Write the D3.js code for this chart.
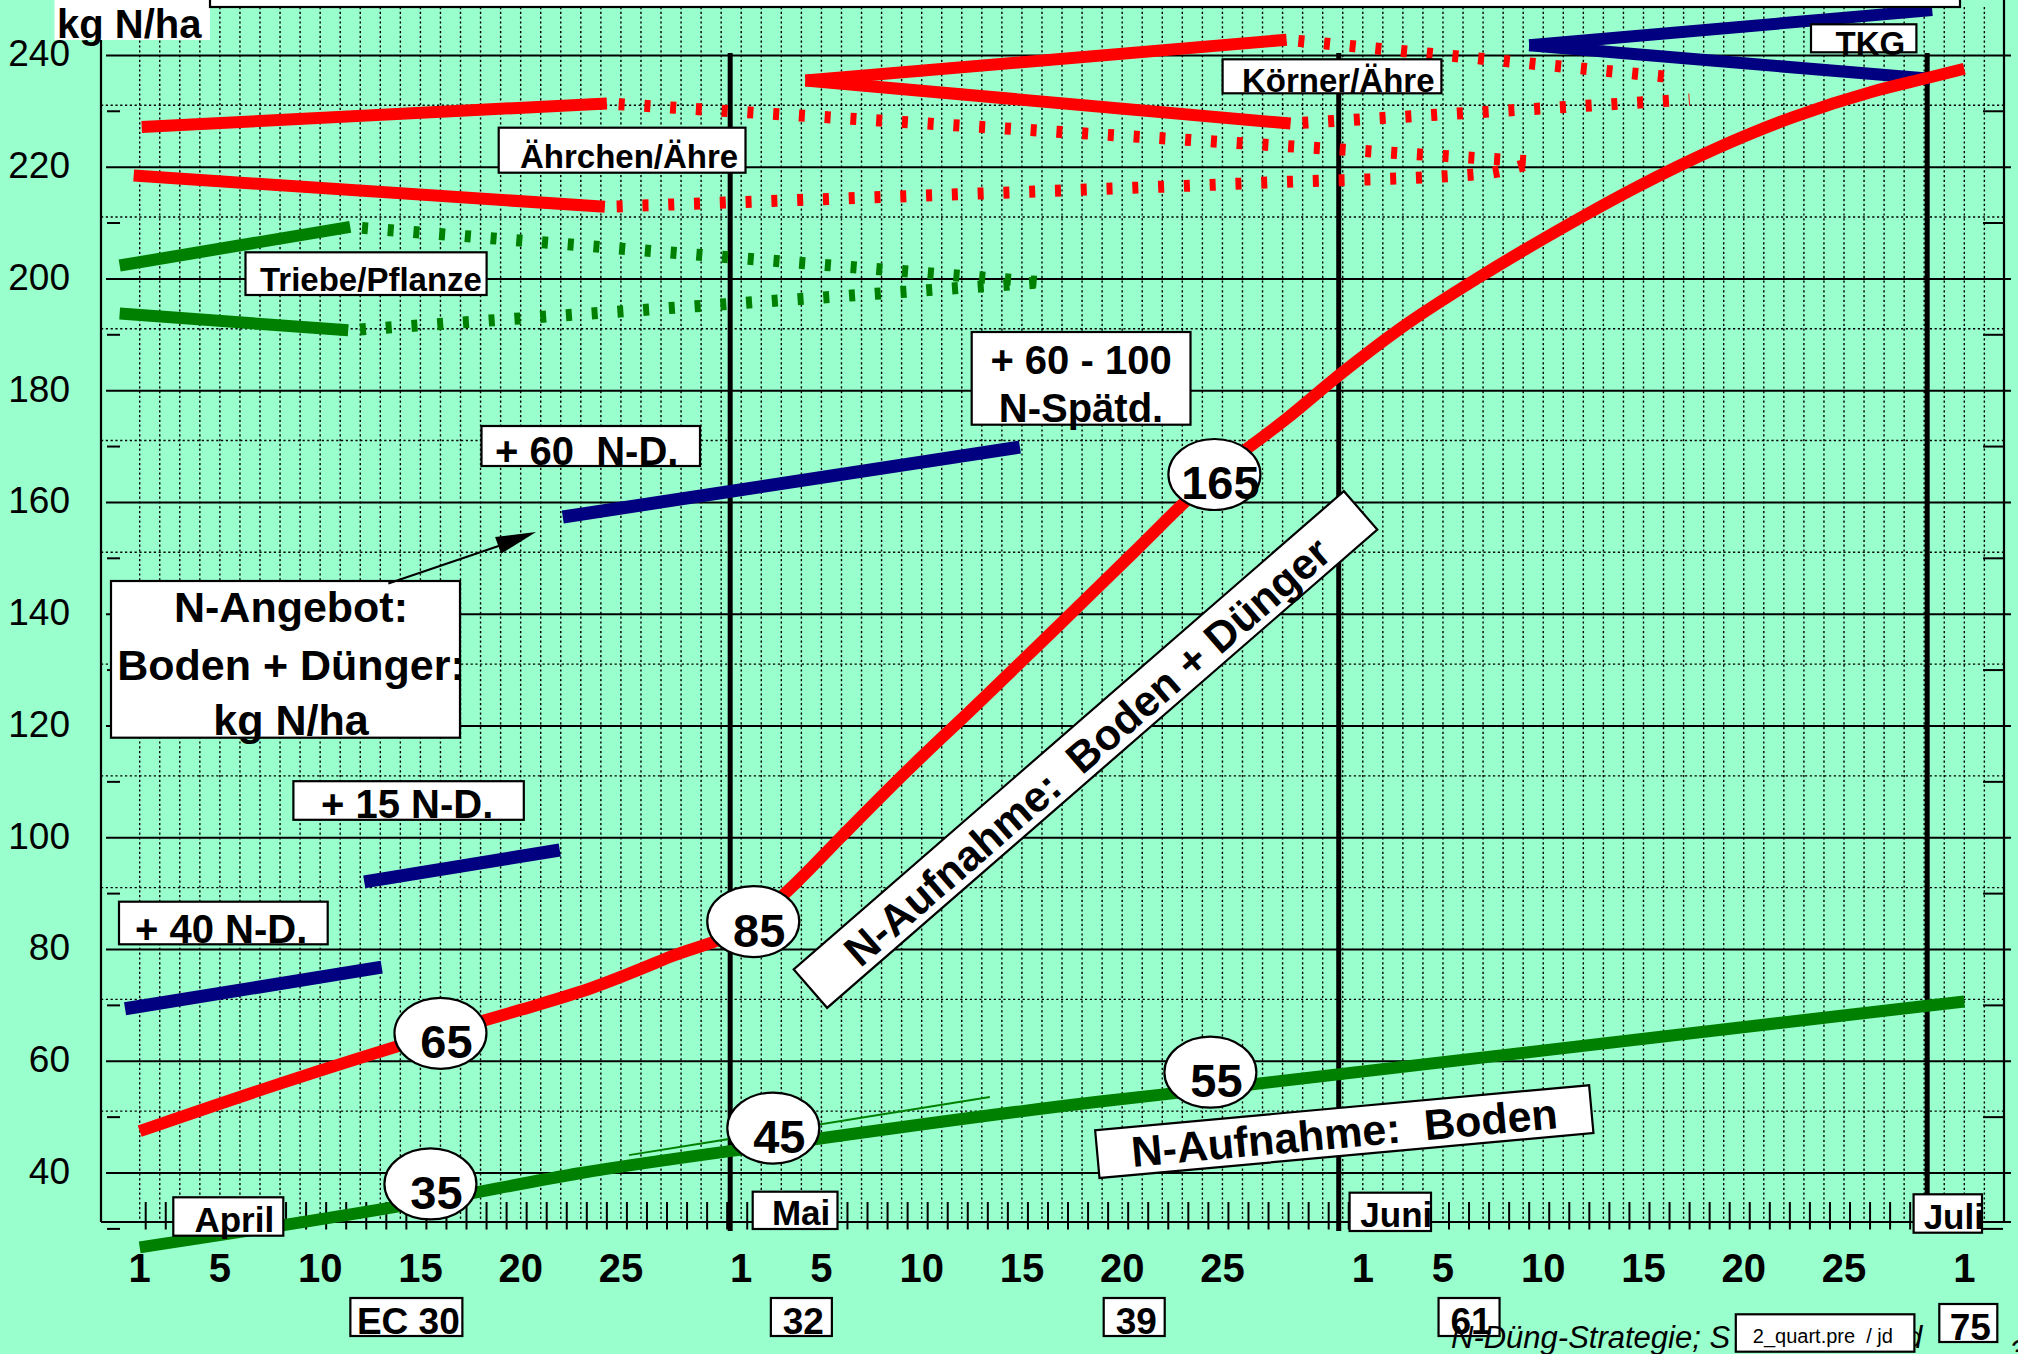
<!DOCTYPE html>
<html>
<head>
<meta charset="utf-8">
<script src="https://cdnjs.cloudflare.com/ajax/libs/d3/7.8.5/d3.min.js"></script>
<style>
  html, body { margin: 0; padding: 0; background: #99ffcc; overflow: hidden; }
  svg { display: block; }
  text { font-family: "Liberation Sans", Arial, Helvetica, sans-serif; white-space: pre; }
</style>
</head>
<body>
<svg id="chart" width="2018" height="1354"></svg>
<script>
// ---------------------------------------------------------------
// Data (x = days counted from 1 April, y = kg N/ha)
// ---------------------------------------------------------------
const monthNames      = ["April", "Mai", "Juni", "Juli"];
const monthStartDays  = [0, 30, 61, 91];
const dayTickLabels   = [1, 5, 10, 15, 20, 25];
const valueTicks      = [40, 60, 80, 100, 120, 140, 160, 180, 200, 220, 240];
const minorValues     = [30, 50, 70, 90, 110, 130, 150, 170, 190, 210, 230];
const stageBoundaries = [29.45, 59.8, 89.15];          // thick separators
const ecStages        = ["EC 30", "32", "39", "61", "75"];
const ecStageDays     = [13.3, 33.0, 49.6, 66.3, 91.2];

// N uptake: soil + fertilizer
const uptakeTotal = [[0,47.5],[7,56],[15,65],[19,69.2],[22.6,73.2],[26.4,78.6],[30.6,85],
  [32.7,91.8],[35,100.2],[38,111],[41.8,124],[45.7,137.5],[49.5,150.8],[53.6,165],[57.2,175],
  [60,183.3],[62.9,191.2],[66.8,200.3],[70.7,208.6],[74.7,216.5],[78.6,223.3],[82.5,229],
  [86.4,233.5],[89.2,236],[91,237.6]];
const uptakeTotalLabels = [[15,65],[30.6,85],[53.6,165]];

// N uptake: soil only
const uptakeSoil = [[0,26.7],[14.5,35],[22,40],[31.6,45],[47.9,52.8],[53.4,55],[91,70.7]];
const uptakeSoilLabels = [[14.5,35],[31.6,45],[53.4,55]];
const soilTrendThin = [[24.4,43.2],[42.4,53.6]];

// N supply after fertilizer doses
const dose40 = [[-0.73,69.4],[12.07,76.85]];
const dose15 = [[11.2,92.1],[20.95,97.8]];
const dose60 = [[21.1,157.4],[43.9,169.9]];

// yield components (solid = fixed range, dotted = further course)
const tillersUpper       = [[-1,202.4],[10.5,209.3]];
const tillersUpperCourse = [[10.5,209.3],[45,199.4]];
const tillersLower       = [[-1,193.8],[10.4,190.8]];
const tillersLowerCourse = [[10.4,190.8],[45,199.4]];

const spikeletsUpper       = [[0.1,227.2],[23.3,231.4]];
const spikeletsUpperCourse = [[23.3,231.4],[69.5,221]];
const spikeletsLower       = [[-0.3,218.5],[23.2,212.9]];
const spikeletsLowerCourse = [[23.2,212.9],[56.7,217.3],[66.9,218.8],[69.5,220.8]];

const grainsUpper       = [[33.2,235.5],[57.2,242.8]];
const grainsUpperCourse = [[57.2,242.8],[76.1,236.2]];
const grainsLower       = [[33.2,235.5],[57.4,227.8]];
const grainsLowerCourse = [[57.4,227.8],[77.3,232.1]];

const tkgUpper = [[69.3,241.8],[89.4,248.1]];
const tkgLower = [[69.3,241.8],[89.3,235.8]];

// ---------------------------------------------------------------
// Scales and layout
// ---------------------------------------------------------------
const RED = "#ff0000", GREEN = "#008000", NAVY = "#000080", BG = "#99ffcc";
const x = d3.scaleLinear().domain([0, 91]).range([139.7, 1964.3]);
const y = d3.scaleLinear().domain([30, 250]).range([1228.9, -0.5]);
const frame = { left: 101, right: 2004, axisY: 1222, gridRight: 2011 };

const svg = d3.select("#chart");
svg.append("rect").attr("width", 2018).attr("height", 1354).attr("fill", BG);

// dotted paper grid
const grid = svg.append("g");
grid.selectAll("line.vd").data(d3.range(0, 93)).join("line")
  .attr("x1", d => x(d)).attr("x2", d => x(d))
  .attr("y1", 7).attr("y2", frame.axisY)
  .attr("stroke", "#000").attr("stroke-width", 1.4).attr("stroke-dasharray", "2.2,2.6");
grid.selectAll("line.hd").data(minorValues.filter(v => v > 40)).join("line")
  .attr("x1", frame.left).attr("x2", frame.right)
  .attr("y1", d => y(d) - 6).attr("y2", d => y(d) - 6)
  .attr("stroke", "#000").attr("stroke-width", 1.4).attr("stroke-dasharray", "2.2,2.6");

// solid value grid
grid.selectAll("line.hs").data(valueTicks).join("line")
  .attr("x1", 106).attr("x2", frame.gridRight)
  .attr("y1", d => y(d)).attr("y2", d => y(d))
  .attr("stroke", "#000").attr("stroke-width", 2);

// minor ticks on both sides
grid.selectAll("line.ml").data(minorValues).join("line")
  .attr("x1", 107).attr("x2", 120).attr("y1", d => y(d)).attr("y2", d => y(d))
  .attr("stroke", "#000").attr("stroke-width", 2);
grid.selectAll("line.mr").data(minorValues).join("line")
  .attr("x1", 1983).attr("x2", 2003).attr("y1", d => y(d)).attr("y2", d => y(d))
  .attr("stroke", "#000").attr("stroke-width", 2);

// axes frame
grid.append("line").attr("x1", frame.left).attr("x2", frame.left).attr("y1", 0).attr("y2", frame.axisY)
  .attr("stroke", "#000").attr("stroke-width", 2.2);
grid.append("line").attr("x1", frame.right).attr("x2", frame.right).attr("y1", 0).attr("y2", frame.axisY)
  .attr("stroke", "#000").attr("stroke-width", 2.2);
grid.append("line").attr("x1", frame.left).attr("x2", frame.gridRight).attr("y1", frame.axisY).attr("y2", frame.axisY)
  .attr("stroke", "#000").attr("stroke-width", 2.2);

// daily ticks
grid.selectAll("line.xt").data(d3.range(0, 92)).join("line")
  .attr("x1", d => x(d) + 6).attr("x2", d => x(d) + 6)
  .attr("y1", 1202).attr("y2", 1229.5)
  .attr("stroke", "#000").attr("stroke-width", 2);

// value labels
svg.append("g").selectAll("text").data(valueTicks).join("text")
  .attr("x", 70).attr("y", d => y(d) + 11)
  .attr("text-anchor", "end").attr("font-size", 37).attr("fill", "#000")
  .text(d => d);

// day labels
const dayLabels = [];
monthStartDays.slice(0, 3).forEach(s => dayTickLabels.forEach(d => dayLabels.push({ day: s + d - 1, label: d })));
dayLabels.push({ day: monthStartDays[3], label: 1 });
svg.append("g").selectAll("text").data(dayLabels).join("text")
  .attr("x", d => x(d.day)).attr("y", 1281.7)
  .attr("text-anchor", "middle").attr("font-size", 40).attr("font-weight", "bold")
  .text(d => d.label);

// stage separators
svg.append("g").selectAll("line").data(stageBoundaries).join("line")
  .attr("x1", d => x(d)).attr("x2", d => x(d))
  .attr("y1", 53).attr("y2", 1231)
  .attr("stroke", "#000").attr("stroke-width", 5);

// ---------------------------------------------------------------
// Series
// ---------------------------------------------------------------
const straight = d3.line().x(d => x(d[0])).y(d => y(d[1]));
const smooth = d3.line().x(d => x(d[0])).y(d => y(d[1])).curve(d3.curveMonotoneX);
const marks = svg.append("g");

function solid(data, color, gen = straight, width = 12) {
  marks.append("path").attr("d", gen(data)).attr("fill", "none")
    .attr("stroke", color).attr("stroke-width", width).attr("stroke-linecap", "butt");
}
function dotted(data, color, gen = straight) {
  marks.append("path").attr("d", gen(data)).attr("fill", "none")
    .attr("stroke", color).attr("stroke-width", 12)
    .attr("stroke-dasharray", "6,19.8").attr("stroke-dashoffset", 14);
}

dotted(tillersUpperCourse, GREEN);
dotted(tillersLowerCourse, GREEN);
solid(tillersUpper, GREEN);
solid(tillersLower, GREEN);

dotted(spikeletsUpperCourse, RED);
dotted(spikeletsLowerCourse, RED, smooth);
solid(spikeletsUpper, RED);
solid(spikeletsLower, RED);

dotted(grainsUpperCourse, RED);
dotted(grainsLowerCourse, RED);
solid(grainsUpper, RED);
solid(grainsLower, RED);

solid(tkgUpper, NAVY);
solid(tkgLower, NAVY);

solid(dose40, NAVY, straight, 13);
solid(dose15, NAVY, straight, 13);
solid(dose60, NAVY, straight, 13);

solid(uptakeSoil, GREEN, smooth, 12);
solid(soilTrendThin, GREEN, straight, 2);
solid(uptakeTotal, RED, smooth, 12);

// ---------------------------------------------------------------
// Annotations
// ---------------------------------------------------------------
const notes = svg.append("g");

function box(x0, y0, x1, y1, opts = {}) {
  notes.append("rect").attr("x", x0).attr("y", y0).attr("width", x1 - x0).attr("height", y1 - y0)
    .attr("fill", "#fff").attr("stroke", opts.noStroke ? "none" : "#000").attr("stroke-width", 2.2);
}
function label(tx, ty, str, size, opts = {}) {
  notes.append("text").attr("x", tx).attr("y", ty)
    .attr("font-size", size).attr("font-weight", opts.normal ? "normal" : "bold")
    .attr("font-style", opts.italic ? "italic" : "normal")
    .attr("text-anchor", opts.anchor || "start").attr("fill", "#000").text(str);
}

// yield component labels
box(498.7, 127.7, 745.5, 172.7); label(520, 168.3, "Ährchen/Ähre", 33);
box(245.5, 252.3, 486.6, 295);   label(260, 290.7, "Triebe/Pflanze", 33);
box(1222.6, 59.3, 1441.4, 93.3); label(1242, 91.7, "Körner/Ähre", 33);
box(1811, 24.3, 1916.4, 52.3);   label(1835.6, 55, "TKG", 33);

// dose labels
box(119, 901.7, 327.7, 944.3);   label(135, 943.3, "+ 40 N-D.", 40);
box(293.4, 781.2, 523.8, 819.8); label(321, 818, "+ 15 N-D.", 40);
box(481.5, 426, 700, 466);       label(495, 465, "+ 60  N-D.", 40);
box(971.7, 332, 1190.5, 424.7);
label(1081, 374, "+ 60 - 100", 40, { anchor: "middle" });
label(1081, 422, "N-Spätd.", 40, { anchor: "middle" });

// supply legend with arrow
box(111, 581, 460, 737.7);
label(291, 621.7, "N-Angebot:", 43, { anchor: "middle" });
label(291, 680, "Boden + Dünger:", 43, { anchor: "middle" });
label(291, 735, "kg N/ha", 43, { anchor: "middle" });
const tail = [x(12.4), y(145.5)], tip = [x(19.77), y(154.7)];
notes.append("line").attr("x1", tail[0]).attr("y1", tail[1]).attr("x2", tip[0] - 20).attr("y2", tip[1] + 8)
  .attr("stroke", "#000").attr("stroke-width", 2);
notes.append("path")
  .attr("d", `M${tip[0]},${tip[1]} L${tip[0] - 41},${tip[1] + 5} L${tip[0] - 35},${tip[1] + 21.6} Z`)
  .attr("fill", "#000");

// rotated curve labels
function tiltedLabel(cx, cy, w, h, angle, str, size) {
  const g = notes.append("g").attr("transform", `translate(${cx},${cy}) rotate(${angle})`);
  g.append("rect").attr("x", -w / 2).attr("y", -h / 2).attr("width", w).attr("height", h)
    .attr("fill", "#fff").attr("stroke", "#000").attr("stroke-width", 2.2);
  g.append("text").attr("x", 0).attr("y", h / 2 - 8).attr("text-anchor", "middle")
    .attr("font-size", size).attr("font-weight", "bold").attr("fill", "#000").text(str);
}
tiltedLabel(1085.5, 749.5, 729, 51, -41, "N-Aufnahme:  Boden + Dünger", 43);
tiltedLabel(1344.3, 1131.6, 496, 48, -5.2, "N-Aufnahme:  Boden", 43);

// value bubbles on the uptake curves
function bubbles(data, dy) {
  const g = notes.append("g").selectAll("g").data(data).join("g")
    .attr("transform", d => `translate(${x(d[0])},${y(d[1]) + dy})`);
  g.append("ellipse").attr("rx", 46).attr("ry", 35.5).attr("fill", "#fff")
    .attr("stroke", "#000").attr("stroke-width", 2.2);
  g.append("text").attr("x", 6).attr("y", 25).attr("text-anchor", "middle")
    .attr("font-size", 47).attr("font-weight", "bold").attr("fill", "#000").text(d => d[1]);
}
bubbles(uptakeTotalLabels, 0);
bubbles(uptakeSoilLabels, -17);

// month boxes on the time axis
const monthBoxes = [[173.3, 1197.3, 283.3, 1235.7], [752.7, 1191.7, 837.5, 1229],
                    [1349.6, 1192.7, 1431, 1231], [1913.6, 1194.3, 1982, 1232.7]];
monthNames.forEach((m, i) => {
  const b = monthBoxes[i];
  box(b[0], b[1], b[2], b[3]);
  label((b[0] + b[2]) / 2 + 6, b[3] - 4, m, 35, { anchor: "middle" });
});

// growth stage boxes
ecStages.forEach((s, i) => {
  const cx = x(ecStageDays[i]);
  const w = i === 0 ? 112 : (i === 4 ? 58 : 61);
  const top = i === 4 ? 1304 : 1298;
  box(cx - w / 2, top, cx + w / 2, top + 38);
  label(cx + 2, top + 36, s, 37, { anchor: "middle" });
});

// unit and header
box(54.5, -2, 210, 40, { noStroke: true });
label(57, 38, "kg N/ha", 40);
box(210, -10, 1960, 7);

// footer
label(1451, 1348, "N-Düng-Strategie; S", 31, { italic: true, normal: true });
label(1905, 1348, "d", 31, { italic: true, normal: true });
label(2009, 1362, "3", 31, { italic: true, normal: true });
box(1735.8, 1314.3, 1914.4, 1351.7);
label(1752.8, 1343, "2_quart.pre  / jd", 20, { normal: true });
</script>
</body>
</html>
